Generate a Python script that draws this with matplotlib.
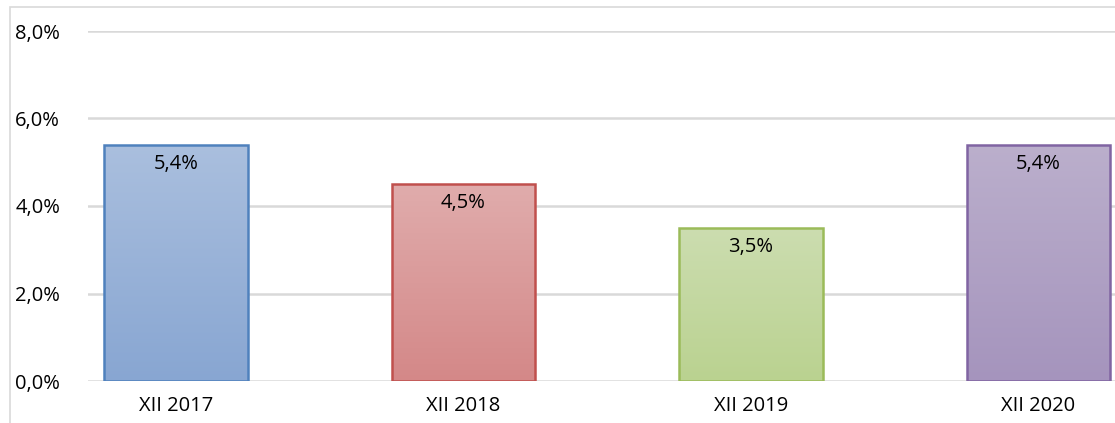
import matplotlib
matplotlib.use("Agg")
import matplotlib.pyplot as plt
import numpy as np
from matplotlib.colors import LinearSegmentedColormap
from matplotlib.patches import Rectangle

categories = ["XII 2017", "XII 2018", "XII 2019", "XII 2020"]
values = [5.4, 4.5, 3.5, 5.4]
labels = ["5,4%", "4,5%", "3,5%", "5,4%"]
yticks = [0, 2, 4, 6, 8]
yticklabels = ["0,0%", "2,0%", "4,0%", "6,0%", "8,0%"]

top_colors = ["#AABFDE", "#E0ACAC", "#CCDDB0", "#BBAFCC"]
bottom_colors = ["#88A6D2", "#D48888", "#BAD290", "#A594BD"]
edge_colors = ["#4F81BD", "#C0504D", "#9BBB59", "#8064A2"]

W, H = 1115, 423
fig = plt.figure(figsize=(W / 100, H / 100), dpi=100)
plt.rcParams['font.family'] = ['Open Sans', 'DejaVu Sans']
FS = 14.5

# chart border (partially cropped)
fig.patches.append(Rectangle((10 / W, -0.1), 1.2, 1 - 7 / H + 0.1, transform=fig.transFigure,
                             fill=False, edgecolor="#D9D9D9", linewidth=1.2))

ax_left, ax_right = 88, 1115
ax_top, ax_bot = 31, 381
ax = fig.add_axes([ax_left / W, 1 - ax_bot / H, (ax_right - ax_left) / W, (ax_bot - ax_top) / H])

c0, step = 176, 287.5
ax.set_xlim((ax_left - c0) / step, (ax_right - c0) / step)
ax.set_ylim(0, 8)

x = np.arange(len(categories))
bars = ax.bar(x, values, width=0.5, facecolor="none", edgecolor="none", zorder=3)
for i, b in enumerate(bars):
    cmap = LinearSegmentedColormap.from_list("g", [bottom_colors[i], top_colors[i]])
    grad = np.linspace(0, 1, 256).reshape(-1, 1)
    x0, w, h = b.get_x(), b.get_width(), b.get_height()
    im = ax.imshow(grad, cmap=cmap, origin="lower", aspect="auto",
                   extent=[x0, x0 + w, 0, h], zorder=3)
    im.set_clip_path(b)
    ax.add_patch(Rectangle((x0, 0), w, h, fill=False, edgecolor=edge_colors[i],
                           linewidth=1.8, zorder=4))
    ax.annotate(labels[i], (x[i], h), xytext=(0, -6.5), textcoords="offset points",
                ha="center", va="top", fontsize=FS, color="#000000", zorder=5)

ax.set_xlim((ax_left - c0) / step, (ax_right - c0) / step)
ax.set_ylim(0, 8)
ax.set_yticks(yticks)
ax.set_yticklabels(yticklabels, fontsize=FS)
ax.set_xticks(x)
ax.set_xticklabels(categories, fontsize=FS)
ax.tick_params(axis="both", length=0)
ax.tick_params(axis="y", pad=20)
ax.tick_params(axis="x", pad=10.5)
ax.grid(axis="y", color="#D9D9D9", linewidth=1.8, zorder=0)
ax.set_axisbelow(True)
for s in ax.spines.values():
    s.set_visible(False)

fig.savefig("out.png", dpi=100)
